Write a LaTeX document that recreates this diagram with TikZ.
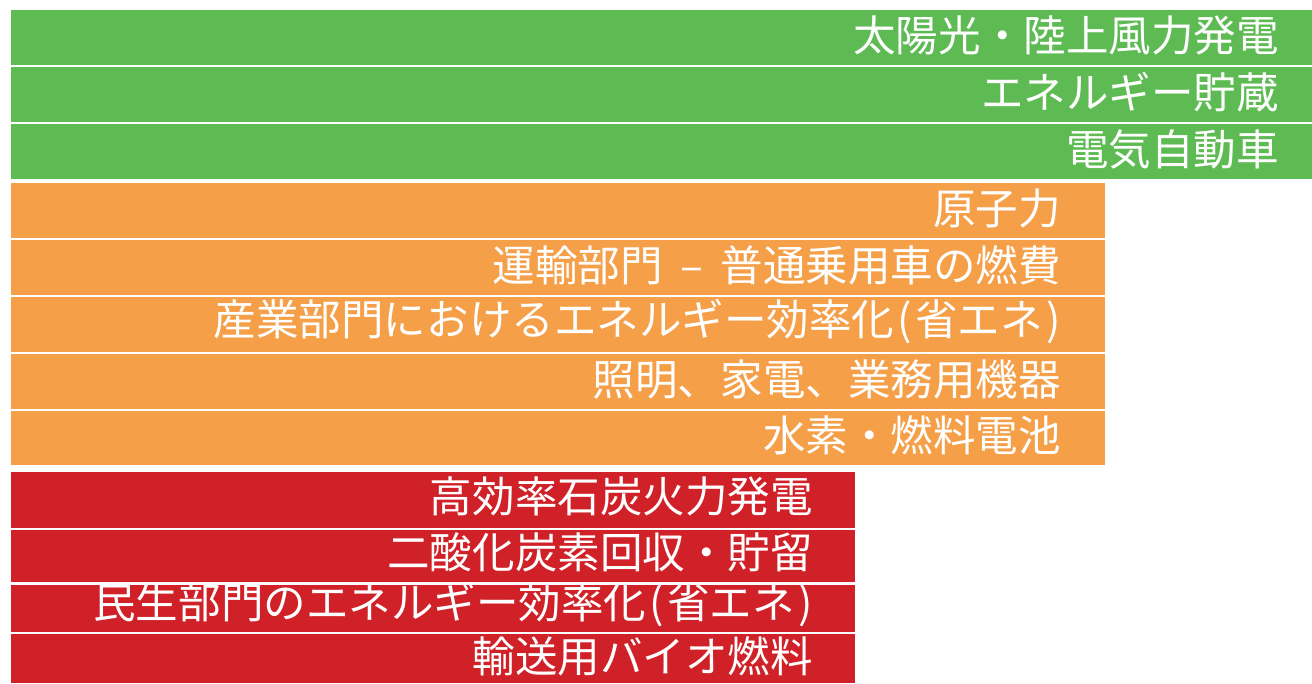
\documentclass[tikz,border=0pt]{standalone}
\usepackage{fontspec}
\newfontfamily\jp{Noto Sans CJK JP}
\definecolor{cgreen}{RGB}{94,187,83}
\definecolor{corange}{RGB}{245,159,72}
\definecolor{cred}{RGB}{209,33,40}
\begin{document}
\begin{tikzpicture}[x=0.75pt,y=-0.75pt,
  bar/.style={inner sep=0pt,outer sep=0pt,draw=none},
  lbl/.style={anchor=east,inner sep=0pt,text=white,font=\jp\fontsize{31.9pt}{36pt}\selectfont}]
\useasboundingbox (0,0) rectangle (1312,683);
% green
\fill[cgreen] (11,10) rectangle (1312,65);
\fill[cgreen] (11,67) rectangle (1312,122);
\fill[cgreen] (11,124) rectangle (1312,179);
% orange
\fill[corange] (11,183) rectangle (1105,238);
\fill[corange] (11,240) rectangle (1105,295);
\fill[corange] (11,297) rectangle (1105,352);
\fill[corange] (11,354) rectangle (1105,409);
\fill[corange] (11,411) rectangle (1105,465);
% red
\fill[cred] (11,472) rectangle (855,527.5);
\fill[cred] (11,529.5) rectangle (855,582);
\fill[cred] (11,584.5) rectangle (855,632);
\fill[cred] (11,634) rectangle (855,683);
% labels
\node[lbl] (g1) at (1279,35) {太陽光・陸上風力発電};
\node[lbl] (g2) at (1279,92) {エネルギー貯蔵};
\node[lbl] (g3) at (1279,149) {電気自動車};
\node[lbl] (o1) at (1061,208) {原子力};
\node[lbl] (o2) at (1061,265) {運輸部門\kern6pt{} – \kern6pt{}普通乗用車の燃費};
\node[lbl] (o3) at (1061,322) {産業部門におけるエネルギー効率化\kern2.5pt(\kern2.5pt{}省エネ\kern2.5pt)};
\node[lbl] (o4) at (1061,379) {照明、家電、業務用機器};
\node[lbl] (o5) at (1061,435) {水素・燃料電池};
\node[lbl] (r1) at (813,496) {高効率石炭火力発電};
\node[lbl] (r2) at (813,552) {二酸化炭素回収・貯留};
\node[lbl] (r3) at (813,605) {民生部門のエネルギー効率化\kern2.5pt(\kern2.5pt{}省エネ\kern2.5pt)};
\node[lbl] (r4) at (813,656) {輸送用バイオ燃料};
\end{tikzpicture}
\end{document}
